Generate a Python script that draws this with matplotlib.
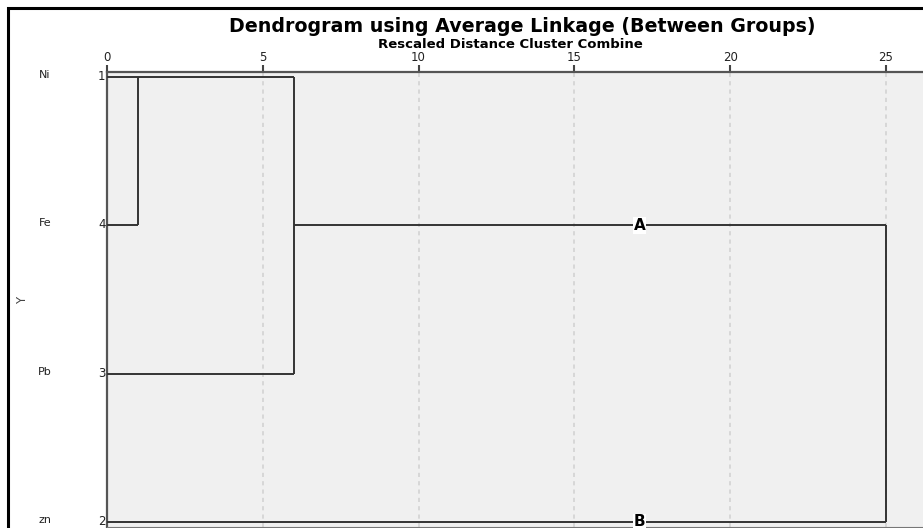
import matplotlib.pyplot as plt
from matplotlib.patches import Rectangle
from matplotlib.transforms import ScaledTranslation

# leaves top to bottom
leaf_names = ["Ni", "Fe", "Pb", "zn"]
leaf_ids = ["1", "4", "3", "2"]
# merges: (left cluster, right cluster, rescaled distance)
merges = [(0, 1, 1.0), (4, 2, 6.0), (5, 3, 25.0)]
cluster_labels = ["A", "B"]
label_x = 17.1
x_ticks = [0, 5, 10, 15, 20, 25]

plt.rcParams['font.family'] = ['DejaVu Sans']

W, H = 923, 528
fig = plt.figure(figsize=(W / 100, H / 100), dpi=100)
ax = fig.add_axes([107 / W, 1 / H, (W - 107) / W, (527 - 72) / H])
ax.set_facecolor('#f0f0f0')

line_kw = dict(color='#333333', lw=1.4, solid_capstyle='butt', zorder=3)

# position and height of each node
pos = {i: float(i) for i in range(len(leaf_names))}
height = {i: 0.0 for i in range(len(leaf_names))}
node = len(leaf_names)
for a, b, d in merges:
    ya, yb = pos[a], pos[b]
    ax.plot([height[a], d], [ya, ya], **line_kw)
    ax.plot([height[b], d], [yb, yb], **line_kw)
    ax.plot([d, d], [ya, yb], **line_kw)
    pos[node] = float(int((ya + yb) // 2))
    height[node] = d
    node += 1

# A / B labels on the two final branches
last_a, last_b, _ = merges[-1]
for lab, n in zip(cluster_labels, [last_a, last_b]):
    ax.text(label_x, pos[n], lab, ha='center', va='center', fontsize=11,
            fontweight='bold', zorder=4,
            bbox=dict(boxstyle='square,pad=0.05', fc='white', ec='none'))

ax.set_xlim(0, (W - 107) / 31.16)
ax.set_ylim(3 + 5 / 148.3, -5 / 148.3)

ax.xaxis.tick_top()
ax.set_xticks(x_ticks)
ax.set_xticklabels([str(t) for t in x_ticks], fontsize=8.5, color='#222222')
ax.tick_params(axis='x', length=5, width=1.5, color='#444444', pad=1)
ax.grid(axis='x', color='#d2d2d2', linestyle=(0, (2.5, 2.5)), lw=1.2, zorder=1)

ax.set_yticks(range(len(leaf_ids)))
ax.set_yticklabels(leaf_ids, fontsize=8.5, color='#222222')
ax.tick_params(axis='y', length=0, pad=1)
nudge = ScaledTranslation(0, 2 / 100, fig.dpi_scale_trans)
for t in ax.get_yticklabels():
    t.set_transform(t.get_transform() + nudge)

for s in ['top', 'left']:
    ax.spines[s].set_color('#555555')
    ax.spines[s].set_linewidth(1.6)
ax.spines['bottom'].set_color('#777777')
ax.spines['right'].set_visible(False)

for i, name in enumerate(leaf_names):
    ax.text(-62 / 31.16, i, name, ha='center', va='center', fontsize=8,
            color='#222222', clip_on=False,
            transform=ax.transData + nudge)

fig.text(23 / W, 1 - 300 / H, "Y", rotation=90, ha='center', va='center',
         fontsize=8.5, color='#444444')

fig.text(522 / W, 1 - 27 / H, "Dendrogram using Average Linkage (Between Groups)",
         ha='center', va='center', fontsize=13.7, fontweight='bold')
fig.text(510 / W, 1 - 44 / H, "Rescaled Distance Cluster Combine",
         ha='center', va='center', fontsize=9.5, fontweight='bold')

# outer frame
fig.patches.append(Rectangle((8 / W, -0.1), 1.2, 1 - 8 / H + 0.1,
                             transform=fig.transFigure, fill=False,
                             ec='black', lw=2.2))

fig.savefig('out.png', dpi=100)
